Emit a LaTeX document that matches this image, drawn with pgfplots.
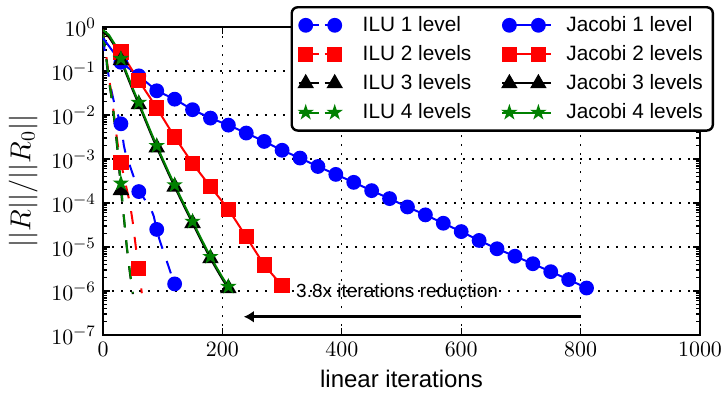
\documentclass[border=0pt]{standalone}
\usepackage{fontspec}
\setmainfont{Liberation Sans}
\usepackage{pgfplots}
\pgfplotsset{compat=1.18}
\usetikzlibrary{arrows.meta}

\definecolor{mblue}{RGB}{0,0,255}
\definecolor{mred}{RGB}{255,0,0}
\definecolor{mgreen}{RGB}{0,128,0}

\pgfdeclareplotmark{fstar}{%
 \pgfpathmoveto{\pgfpointpolar{90}{\pgfplotmarksize}}%
 \pgfpathlineto{\pgfpointpolar{126}{0.382\pgfplotmarksize}}%
 \pgfpathlineto{\pgfpointpolar{162}{\pgfplotmarksize}}%
 \pgfpathlineto{\pgfpointpolar{198}{0.382\pgfplotmarksize}}%
 \pgfpathlineto{\pgfpointpolar{234}{\pgfplotmarksize}}%
 \pgfpathlineto{\pgfpointpolar{270}{0.382\pgfplotmarksize}}%
 \pgfpathlineto{\pgfpointpolar{306}{\pgfplotmarksize}}%
 \pgfpathlineto{\pgfpointpolar{342}{0.382\pgfplotmarksize}}%
 \pgfpathlineto{\pgfpointpolar{18}{\pgfplotmarksize}}%
 \pgfpathlineto{\pgfpointpolar{54}{0.382\pgfplotmarksize}}%
 \pgfpathclose
 \pgfusepathqfillstroke
}

\pgfplotsset{
 ilu/.style={line width=1pt, dash pattern=on 6.5pt off 6.5pt, mark options={solid,sharp corners}, mark repeat=6, mark phase=7},
 jac/.style={line width=1pt, solid, mark options={solid,sharp corners}},
 c1/.style={mblue, mark=*, mark size=3.2pt},
 c2/.style={mred, mark=square*, mark size=3.3pt},
 c3/.style={black, mark=triangle*, mark size=3.8pt},
 c4/.style={mgreen, mark=fstar, mark size=2.7pt},
}

\begin{document}
\begin{tikzpicture}
\begin{axis}[
 scale only axis, width=298.5pt, height=154pt,
 ymode=log, xmin=0, xmax=1000, ymin=1e-7, ymax=1,
 xtick={0,200,400,600,800,1000},
 ytick={1e-7,1e-6,1e-5,1e-4,1e-3,1e-2,1e-1,1},
 xticklabel style={/pgf/number format/1000 sep={}},
 grid=major,
 major grid style={black, line width=0.6pt, dash pattern=on 0.9pt off 3.6pt},
 axis line style={line width=1.4pt},
 major tick length=3.5pt, minor tick length=2pt,
 every tick/.style={black, line width=0.7pt},
 tick label style={font=\fontsize{11}{13}\selectfont},
 xlabel={linear iterations}, xlabel style={font=\fontsize{12}{14}\selectfont},
 ylabel={$||R||/||R_0||$}, ylabel style={font=\fontsize{14}{16}\selectfont},
 legend image code/.code={\draw[mark repeat=1,mark phase=1,sharp corners] plot coordinates {(0pt,0pt) (14.5pt,0pt)};
   \path (-3.5pt,0pt) -- (21pt,0pt);},
 legend columns=2,
 legend style={at={(1.0235,1.068)}, anchor=north east, draw=black, line width=1.2pt, rounded corners=3pt,
   font=\fontsize{10.4}{12}\selectfont, inner xsep=3pt, inner ysep=2.5pt, row sep=1.5pt,
   /tikz/every odd column/.append style={column sep=5pt},
   /tikz/every even column/.append style={column sep=13pt}},
 legend cell align=left,
]
% ILU 1 level
\addplot[ilu, c1, forget plot] table {
x y
0 0.562
5 0.178
10 0.0708
15 0.0316
20 0.0158
25 0.0100
30 0.00631
35 0.00200
40 0.00100
45 7.08e-4
50 4.47e-4
55 2.82e-4
60 1.82e-4
65 1.51e-4
70 1.20e-4
75 9.55e-5
80 7.59e-5
85 5.01e-5
90 2.51e-5
95 1.41e-5
100 8.91e-6
105 5.62e-6
110 3.55e-6
115 2.24e-6
120 1.45e-6
};
% ILU 2 levels
\addplot[ilu, c2, forget plot] table {
x y
0 0.794
5 0.251
10 0.0708
15 0.0251
20 0.00631
25 0.00200
30 8.32e-4
35 3.98e-4
40 2.00e-4
45 1.00e-4
50 3.55e-5
55 1.0e-5
60 3.31e-6
65 8.91e-7
};
% ILU 3 levels
\addplot[ilu, c3, forget plot] table {
x y
0 0.708
5 0.22
10 0.06
15 0.021
20 0.0058
25 0.00126
30 1.95e-4
35 4.5e-5
40 9.3e-6
45 2.6e-6
50 8.5e-7
};
% ILU 4 levels
\addplot[ilu, c4, forget plot] table {
x y
0 0.708
5 0.224
10 0.0631
15 0.0224
20 0.00631
25 0.00141
30 2.82e-4
35 5.01e-5
40 1.0e-5
45 2.82e-6
50 8.91e-7
};
% Jacobi 1 level
\addplot[jac, c1, mark repeat=1, mark phase=2, forget plot] table {
x y
0 0.562
30 0.158
60 0.0776
90 0.0355
120 0.0229
150 0.0132
180 0.00851
210 0.00589
240 0.00389
270 0.00251
300 0.00158
330 0.00105
360 6.76e-4
390 4.47e-4
420 2.95e-4
450 1.91e-4
480 1.26e-4
510 8.13e-5
540 5.37e-5
570 3.47e-5
600 2.24e-5
630 1.41e-5
660 9.12e-6
690 6.17e-6
720 4.17e-6
750 2.75e-6
780 1.82e-6
810 1.17e-6
};
% Jacobi 2 levels
\addplot[jac, c2, mark repeat=1, mark phase=2, forget plot] table {
x y
0 0.851
30 0.269
60 0.0603
90 0.0145
120 0.00316
150 7.94e-4
180 2.34e-4
210 7.24e-5
240 1.70e-5
270 3.89e-6
300 1.32e-6
};
% Jacobi 3 levels
\addplot[jac, c3, mark repeat=3, mark phase=4, forget plot] table {
x y
0 0.78
10 0.60
20 0.36
30 0.174
40 0.0794
50 0.0363
60 0.0174
70 0.00813
80 0.0038
90 0.00182
100 9.1e-4
110 4.57e-4
120 2.34e-4
130 1.23e-4
140 6.46e-5
150 3.47e-5
160 1.86e-5
170 1.0e-5
180 5.5e-6
190 3.16e-6
200 1.86e-6
210 1.15e-6
};
% Jacobi 4 levels
\addplot[jac, c4, mark repeat=3, mark phase=4, forget plot] table {
x y
0 0.851
10 0.661
20 0.398
30 0.191
40 0.0871
50 0.0398
60 0.0191
70 0.00891
80 0.00417
90 0.00200
100 0.00100
110 5.01e-4
120 2.57e-4
130 1.35e-4
140 7.08e-5
150 3.80e-5
160 2.04e-5
170 1.10e-5
180 6.03e-6
190 3.47e-6
200 2.04e-6
210 1.26e-6
};
\addlegendimage{ilu,c1}\addlegendentry{ILU 1 level}
\addlegendimage{jac,c1}\addlegendentry{Jacobi 1 level}
\addlegendimage{ilu,c2}\addlegendentry{ILU 2 levels}
\addlegendimage{jac,c2}\addlegendentry{Jacobi 2 levels}
\addlegendimage{ilu,c3}\addlegendentry{ILU 3 levels}
\addlegendimage{jac,c3}\addlegendentry{Jacobi 3 levels}
\addlegendimage{ilu,c4}\addlegendentry{ILU 4 levels}
\addlegendimage{jac,c4}\addlegendentry{Jacobi 4 levels}
\draw[line width=1.5pt, -{Latex[length=5pt,width=6pt]}] (axis cs:800,2.6e-7) -- (axis cs:236,2.6e-7);
\node[anchor=west, inner sep=0pt, font=\fontsize{9.5}{11}\selectfont] at (axis cs:323,1e-6) {3.8x iterations reduction};
\end{axis}
\pgfresetboundingbox
\path ([xshift=-51.5pt,yshift=-28.5pt]current axis.south west) rectangle ([xshift=12pt,yshift=13.5pt]current axis.north east);
\end{tikzpicture}
\end{document}
